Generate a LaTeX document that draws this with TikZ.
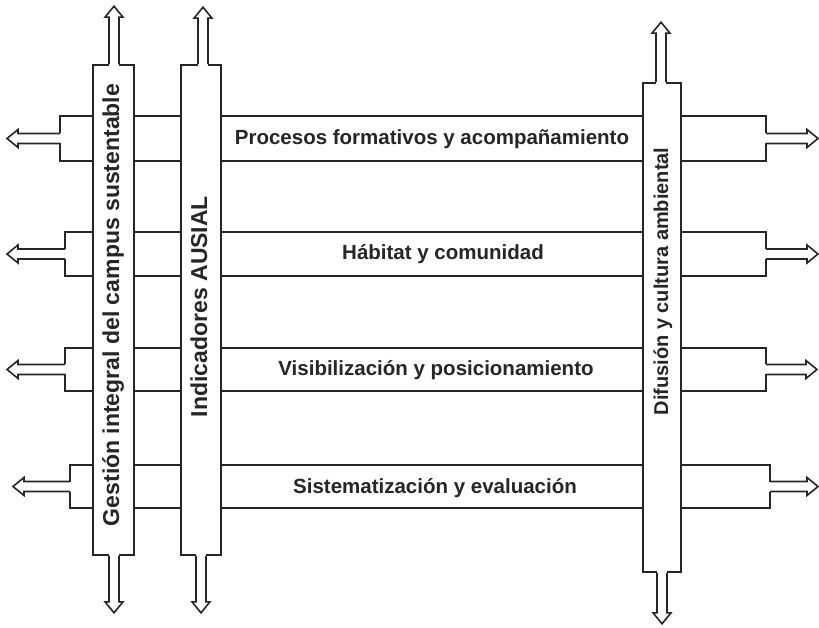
\documentclass[tikz,border=0pt]{standalone}
\usepackage{fontspec}
\setmainfont{Liberation Sans}
\usetikzlibrary{calc}
\tikzset{
  ln/.style={line width=1.6pt, line join=miter, draw=black!85},
  bar/.style={ln, fill=white, inner sep=0pt},
  lbl/.style={font=\bfseries\fontsize{20.5}{24}\selectfont, text=black!85, inner sep=0pt, anchor=base},
  vlbl/.style={font=\bfseries\fontsize{23}{26}\selectfont, text=black!85, rotate=90, inner sep=0pt, anchor=base},
  pics/harrow/.style={code={
    \fill[white] (-5,-1.5) -- (-5,#1-11) -- (5,#1-11) -- (5,-1.5) -- cycle;
    \fill[white] (-9,#1-11) -- (0,#1) -- (9,#1-11) -- cycle;
    \draw[ln] (-5,0) -- (-5,#1-11) -- (-9,#1-11) -- (0,#1) -- (9,#1-11) -- (5,#1-11) -- (5,0);
  }}
}
\begin{document}
\begin{tikzpicture}[x=1pt,y=1pt]
\useasboundingbox[fill=white] (0,0) rectangle (819,627);
% vertical bars
\node[bar, minimum width=41, minimum height=490] (G) at (113.5,317) {};
\node[bar, minimum width=40, minimum height=490] (I) at (201,317) {};
\node[bar, minimum width=38, minimum height=489] (D) at (662,299.5) {};
% bands, brackets and side arrows
\foreach \i/\t/\b/\lx/\ll/\rx/\rl in {1/511/466/60/53/766/52, 2/395/351/65/58/766/52, 3/279/236/65/58/766/51, 4/162/119/70/57/770/48}{
  \coordinate (t\i) at (0,\t);
  \coordinate (b\i) at (0,\b);
  \coordinate (L\i) at (\lx,{(\t+\b)/2});
  \coordinate (R\i) at (\rx,{(\t+\b)/2});
  \draw[ln] (G.east|-t\i) -- (I.west|-t\i);
  \draw[ln] (G.east|-b\i) -- (I.west|-b\i);
  \draw[ln] (I.east|-t\i) -- (D.west|-t\i);
  \draw[ln] (I.east|-b\i) -- (D.west|-b\i);
  \draw[ln] (G.west|-t\i) -- (L\i|-t\i) -- (L\i|-b\i) -- (G.west|-b\i);
  \draw[ln] (D.east|-t\i) -- (R\i|-t\i) -- (R\i|-b\i) -- (D.east|-b\i);
  \pic[rotate=90] at (L\i) {harrow=\ll};
  \pic[rotate=-90] at (R\i) {harrow=\rl};
}
% vertical arrows
\pic at ([xshift=0.5pt]G.north) {harrow=58};
\pic[rotate=180] at ([xshift=0.5pt]G.south) {harrow=57};
\pic at ([xshift=2pt]I.north) {harrow=57};
\pic[rotate=180] at (I.south) {harrow=57};
\pic at ([xshift=-1pt]D.north) {harrow=60};
\pic[rotate=180] at (D.south) {harrow=51};
% labels
\node[vlbl] (gt) at ([xshift=5.5pt,yshift=5pt]G.center) {Gestión integral del campus sustentable};
\node[vlbl] (it) at ([xshift=6pt,yshift=3.5pt]I.center) {Indicadores AUSIAL};
\node[vlbl, font=\bfseries\fontsize{20}{24}\selectfont] (dt) at ([xshift=6pt,yshift=46pt]D.center) {Difusión y cultura ambiental};
\node[lbl] (p1) at ($(I.east|-L1)!0.5!(D.west|-L1)+(0,-6)$) {Procesos formativos y acompañamiento};
\node[lbl] (p2) at ($(I.east|-L2)!0.5!(D.west|-L2)+(11,-6)$) {Hábitat y comunidad};
\node[lbl] (p3) at ($(I.east|-L3)!0.5!(D.west|-L3)+(4,-6)$) {Visibilización y posicionamiento};
\node[lbl] (p4) at ($(I.east|-L4)!0.5!(D.west|-L4)+(3,-6.5)$) {Sistematización y evaluación};
\end{tikzpicture}
\end{document}
